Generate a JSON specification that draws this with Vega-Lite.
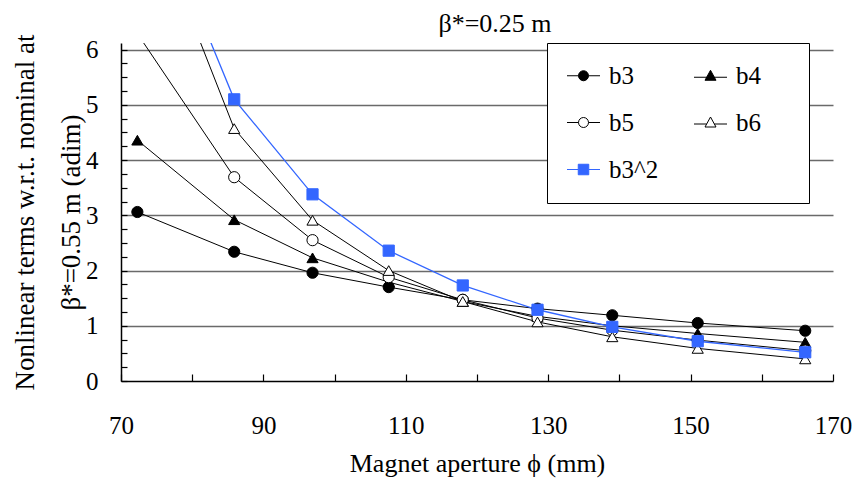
{
  "$schema": "https://vega.github.io/schema/vega-lite/v6.json",
  "width": 712,
  "height": 338,
  "autosize": {"type": "none"},
  "padding": {"left": 121, "top": 43, "right": 22, "bottom": 100},
  "background": "white",
  "config": {"view": {"stroke": null}, "font": "Liberation Serif"},
  "title": {"text": "β*=0.25 m", "font": "Liberation Serif", "fontSize": 26, "fontWeight": "normal", "color": "black", "frame": "group", "anchor": "middle", "baseline": "alphabetic", "offset": -27, "dx": 18},
  "data": {"values": [
    {"x": 72.3, "v": 3.06, "s": "b3"}, {"x": 85.9, "v": 2.34, "s": "b3"}, {"x": 96.9, "v": 1.96, "s": "b3"}, {"x": 107.6, "v": 1.70, "s": "b3"}, {"x": 118.0, "v": 1.47, "s": "b3"}, {"x": 128.5, "v": 1.31, "s": "b3"}, {"x": 139.0, "v": 1.19, "s": "b3"}, {"x": 151.0, "v": 1.05, "s": "b3"}, {"x": 166.1, "v": 0.91, "s": "b3"},
    {"x": 72.3, "v": 4.36, "s": "b4"}, {"x": 85.9, "v": 2.92, "s": "b4"}, {"x": 96.9, "v": 2.23, "s": "b4"}, {"x": 107.6, "v": 1.79, "s": "b4"}, {"x": 118.0, "v": 1.44, "s": "b4"}, {"x": 128.5, "v": 1.17, "s": "b4"}, {"x": 139.0, "v": 1.00, "s": "b4"}, {"x": 151.0, "v": 0.86, "s": "b4"}, {"x": 166.1, "v": 0.70, "s": "b4"},
    {"x": 72.3, "v": 6.29, "s": "b5"}, {"x": 85.9, "v": 3.69, "s": "b5"}, {"x": 96.9, "v": 2.55, "s": "b5"}, {"x": 107.6, "v": 1.88, "s": "b5"}, {"x": 118.0, "v": 1.47, "s": "b5"}, {"x": 128.5, "v": 1.14, "s": "b5"}, {"x": 139.0, "v": 0.92, "s": "b5"}, {"x": 151.0, "v": 0.74, "s": "b5"}, {"x": 166.1, "v": 0.55, "s": "b5"},
    {"x": 72.3, "v": 9.04, "s": "b6"}, {"x": 85.9, "v": 4.57, "s": "b6"}, {"x": 96.9, "v": 2.91, "s": "b6"}, {"x": 107.6, "v": 2.00, "s": "b6"}, {"x": 118.0, "v": 1.44, "s": "b6"}, {"x": 128.5, "v": 1.07, "s": "b6"}, {"x": 139.0, "v": 0.80, "s": "b6"}, {"x": 151.0, "v": 0.59, "s": "b6"}, {"x": 166.1, "v": 0.40, "s": "b6"},
    {"x": 72.3, "v": 9.36, "s": "b3^2"}, {"x": 85.9, "v": 5.10, "s": "b3^2"}, {"x": 96.9, "v": 3.38, "s": "b3^2"}, {"x": 107.6, "v": 2.36, "s": "b3^2"}, {"x": 118.0, "v": 1.73, "s": "b3^2"}, {"x": 128.5, "v": 1.29, "s": "b3^2"}, {"x": 139.0, "v": 0.98, "s": "b3^2"}, {"x": 151.0, "v": 0.72, "s": "b3^2"}, {"x": 166.1, "v": 0.52, "s": "b3^2"}
  ]},
  "encoding": {
    "x": {"field": "x", "type": "quantitative",
      "scale": {"domain": [70, 170], "nice": false, "zero": false},
      "axis": {"title": "Magnet aperture ϕ (mm)", "values": [70, 80, 90, 100, 110, 120, 130, 140, 150, 160, 170],
        "labelExpr": "datum.value % 20 == 10 ? datum.label : ''",
        "grid": false, "domainColor": "black", "domainWidth": 1.5, "tickColor": "black", "tickWidth": 1.2, "tickSize": -7,
        "labelFont": "Liberation Serif", "labelFontSize": 25, "labelColor": "black", "labelPadding": 39, "labelFlush": false,
        "titleFont": "Liberation Serif", "titleFontSize": 26, "titleFontWeight": "normal", "titleColor": "black", "titlePadding": 12}},
    "y": {"field": "v", "type": "quantitative",
      "scale": {"domain": [0, 6.12], "nice": false, "zero": true},
      "axis": {"title": ["Nonlinear terms w.r.t. nominal  at", "β*=0.55 m (adim)"],
        "values": [0, 0.25, 0.5, 0.75, 1, 1.25, 1.5, 1.75, 2, 2.25, 2.5, 2.75, 3, 3.25, 3.5, 3.75, 4, 4.25, 4.5, 4.75, 5, 5.25, 5.5, 5.75, 6],
        "labelExpr": "datum.value % 1 == 0 ? format(datum.value, 'd') : ''",
        "grid": true, "gridColor": "#6a6a6a", "gridWidth": 1.5,
        "gridOpacity": {"condition": {"test": "datum.value % 1 == 0 && datum.value > 0", "value": 1}, "value": 0},
        "domainColor": "black", "domainWidth": 1.5, "tickColor": "black", "tickWidth": 1.2, "tickSize": -6,
        "labelFont": "Liberation Serif", "labelFontSize": 25, "labelColor": "black", "labelPadding": 29,
        "titleFont": "Liberation Serif", "titleFontSize": 27, "titleFontWeight": "normal", "titleColor": "black",
        "titleX": -88, "titleBaseline": "alphabetic", "titleAlign": "center", "titleAngle": 270, "titleLineHeight": 46}}
  },
  "layer": [
    {"transform": [{"filter": "datum.s !== 'b3^2'"}],
     "mark": {"type": "line", "clip": true, "color": "black", "strokeWidth": 1},
     "encoding": {"detail": {"field": "s"}}},
    {"transform": [{"filter": "datum.s === 'b3^2'"}],
     "mark": {"type": "line", "clip": true, "color": "#3366ff", "strokeWidth": 1.3},
     "encoding": {}},
    {"mark": {"type": "point", "clip": true, "filled": false, "opacity": 1, "strokeWidth": 1, "size": 125},
     "encoding": {
       "shape": {"field": "s", "type": "nominal", "legend": null,
         "scale": {"domain": ["b3", "b4", "b5", "b6", "b3^2"], "range": ["circle", "triangle-up", "circle", "triangle-up", "square"]}},
       "fill": {"field": "s", "type": "nominal", "legend": null,
         "scale": {"domain": ["b3", "b4", "b5", "b6", "b3^2"], "range": ["black", "black", "white", "white", "#3366ff"]}},
       "stroke": {"field": "s", "type": "nominal", "legend": null,
         "scale": {"domain": ["b3", "b4", "b5", "b6", "b3^2"], "range": ["black", "black", "black", "black", "#3366ff"]}}
     }},
    {"transform": [{"filter": "false"}],
     "mark": {"type": "point", "clip": true, "filled": false, "opacity": 1, "strokeWidth": 1},
     "encoding": {
       "shape": {"field": "s", "type": "nominal",
         "scale": {"domain": ["b3", "b4", "b5", "b6", "b3^2"], "range": [
           "M-3.3,0H-1M1,0H3.3M-1,0A1,1 0 1,1 1,0A1,1 0 1,1 -1,0Z",
           "M-3.3,0.3H3.3M0,-1.1L1.1,0.9L-1.1,0.9Z",
           "M-3.3,0H-1M1,0H3.3M-1,0A1,1 0 1,1 1,0A1,1 0 1,1 -1,0Z",
           "M-3.3,0.3H-0.77M0.77,0.3H3.3M0,-1.1L1.1,0.9L-1.1,0.9Z",
           "M-3.3,0H-1.05M1.05,0H3.3M-1.05,-1.05H1.05V1.05H-1.05Z"]},
         "legend": {"orient": "none", "legendX": 426, "legendY": 0, "columns": 2, "direction": "horizontal",
           "title": " ", "titleOrient": "right", "titlePadding": 28, "titleFontSize": 10,
           "fillColor": "white", "strokeColor": "black", "padding": 20, "rowPadding": 21, "columnPadding": 33,
           "symbolSize": 100, "symbolOffset": 4, "labelOffset": 13, "symbolStrokeWidth": 1,
           "labelFont": "Liberation Serif", "labelFontSize": 25, "labelColor": "black"}},
       "fill": {"field": "s", "type": "nominal",
         "scale": {"domain": ["b3", "b4", "b5", "b6", "b3^2"], "range": ["black", "black", "white", "white", "#3366ff"]}},
       "stroke": {"field": "s", "type": "nominal",
         "scale": {"domain": ["b3", "b4", "b5", "b6", "b3^2"], "range": ["black", "black", "black", "black", "#3366ff"]}}
     }}
  ],
  "resolve": {"scale": {"shape": "independent", "fill": "independent", "stroke": "independent"}}
}
